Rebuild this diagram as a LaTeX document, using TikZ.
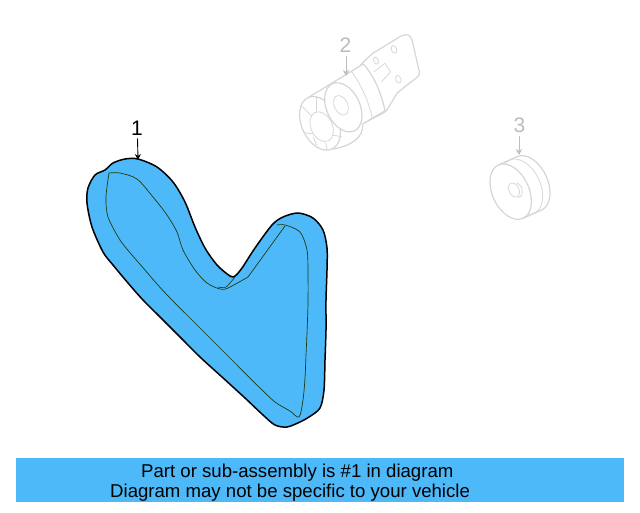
\documentclass[tikz,border=0pt]{standalone}
\usepackage{fontspec}
\setmainfont{Liberation Sans}
\definecolor{beltblue}{HTML}{4DB9F9}
\definecolor{ghost}{HTML}{D6D6D6}
\definecolor{ghosttext}{HTML}{BDBDBD}
\definecolor{innerline}{HTML}{1E3A10}
\usetikzlibrary{arrows.meta}
\tikzset{
  x=1pt,y=-1pt,
  partnum/.style={font=\fontsize{21}{21}\selectfont,inner sep=0pt},
  callout/.style={-{Stealth[length=6pt,width=6pt]},line width=0.9pt},
  ghostline/.style={draw=ghost,line width=0.75pt},
  ghostfat/.style={draw=ghost,line width=1.2pt,fill=white,line join=round},
  caption/.style={font=\fontsize{18.6}{18.6}\selectfont,inner sep=0pt,anchor=base west},
}
\begin{document}
\begin{tikzpicture}
\useasboundingbox (0,0) rectangle (640,512);
\fill[white] (0,0) rectangle (640,512);
% belt
\draw[fill=beltblue,draw=black,line width=1.5pt,line join=round] plot[smooth cycle,tension=0.5] coordinates {
(138,159)(157,167)(173,182)(185,202)(195,227)(205,248)(217,265)(230,276)(235,276)(242,268)(255,248)(272,225)(283,217)(298,213)(313,218)(323,230)(327,248)(327,270)(326,300)(326,330)(325,360)(324,390)(320,408)(309,417)(300,422)(287,427)(275,425)(263,415)(245,398)(222,377)(200,357)(180,337)(161,318)(143,300)(128,283)(113,265)(103,252)(92,227)(87,203)(88,188)(95,175)(105,170)(113,163)(125,159)};
\draw[draw=innerline,line width=0.7pt,line join=round] plot[smooth,tension=0.5] coordinates {
(109,173)(120,173)(137,179)(153,197)(167,215)(177,232)(183,250)(195,270)(207,283)(220,289)(228,288)(248,277)};
\draw[draw=innerline,line width=0.7pt] (248,277) -- (285,226);
\draw[draw=innerline,line width=0.7pt] plot[smooth,tension=0.5] coordinates {
(277,225)(285,225)(300,232)(307,250)(308,273)(308,303)(307,333)(306,355)(305,378)(303,400)(299,417)(290,411)(275,402)(258,386)(237,365)(218,346)(200,328)(185,313)(170,298)(157,284)(145,270)(132,255)(120,240)(108,217)(106,197)(109,173)};
\draw[draw=innerline,line width=0.6pt] plot[smooth,tension=0.5] coordinates {(218,287)(226,287)(235,277)};
% label 1
\node[partnum] (n1) at (137,128) {1};
\coordinate (t1) at (138,160);
\draw[callout] (n1.south) ++(0.5,3) -- (t1);
% part 2
\begin{scope}[shift={(280,20)},scale=1/3]
\draw[ghostfat,rounded corners=3pt] (240,135) -- (278,100) -- (365,47) -- (385,42) -- (396,58) -- (420,165) -- (352,218) -- (318,275) -- (240,315) -- cycle;
\draw[ghostfat] (84,233) -- (250,132) .. controls (285,170) and (305,225) .. (315,272) -- (248,312) .. controls (252,350) and (215,378) .. (159,387) -- cycle;
\draw[ghostline] (214,154) .. controls (245,195) and (268,250) .. (277,295);
\draw[ghostfat,rotate around={25:(120,310)}] (120,310) ellipse [x radius=55,y radius=85];
\draw[ghostfat,rotate around={25:(190,262)}] (190,262) ellipse [x radius=50,y radius=78];
\draw[ghostline,rotate around={25:(183,256)}] (183,256) ellipse [x radius=20,y radius=31];
\draw[ghostline,fill=white,rotate around={25:(125,320)}] (125,320) ellipse [x radius=32,y radius=47];
\draw[ghostline] (62,255) -- (95,288);
\draw[ghostline] (108,232) -- (108,275);
\draw[ghostline] (72,338) -- (100,342);
\draw[ghostline] (100,352) -- (110,375);
\draw[ghostline] (137,368) -- (142,392);
\draw[ghostline] (156,345) -- (185,350);
\draw[ghostline,rotate around={20:(288,122)}] (288,122) ellipse [x radius=7,y radius=11];
\draw[ghostline,rotate around={20:(342,88)}] (342,88) ellipse [x radius=8,y radius=12];
\draw[ghostline,rotate around={20:(355,178)}] (355,178) ellipse [x radius=8,y radius=12];
\draw[ghostline,line join=round] (282,155) -- (315,130) -- (332,155) -- (305,185);
\end{scope}
\node[partnum,text=ghosttext] (n2) at (345.5,45) {2};
\coordinate (t2) at (346,76);
\draw[callout,draw=ghosttext] (n2.south) ++(0.5,3) -- (t2);
% part 3
\begin{scope}[shift={(470,100)},scale=1/3]
\draw[ghostfat,rotate around={25:(178,250)}] (178,250) ellipse [x radius=55,y radius=88];
\fill[white] (85,195) -- (141,170) -- (215,330) -- (159,355) -- cycle;
\draw[ghostline,line width=1.2pt] (85,195) -- (141,170);
\draw[ghostline,line width=1.2pt] (159,355) -- (215,330);
\draw[ghostline,rotate around={25:(156,260)}] (156,260) ellipse [x radius=55,y radius=88];
\draw[ghostfat,rotate around={25:(122,275)}] (122,275) ellipse [x radius=55,y radius=88];
\draw[ghostline,rotate around={25:(132,270)}] (132,270) ellipse [x radius=15,y radius=22];
\draw[ghostline] plot[smooth,tension=0.6] coordinates {(140,248)(155,262)(155,285)(145,293)};
\end{scope}
\node[partnum,text=ghosttext] (n3) at (519.5,125) {3};
\coordinate (t3) at (519,155);
\draw[callout,draw=ghosttext] (n3.south) ++(-0.5,3) -- (t3);
% caption bar
\node[fill=beltblue,minimum width=608,minimum height=44,inner sep=0pt,anchor=north west] (bar) at (16,458) {};
\node[caption] (c1) at (141,477) {Part or sub-assembly is \#1 in diagram};
\node[caption] (c2) at (110,497) {Diagram may not be specific to your vehicle};
\end{tikzpicture}
\end{document}
